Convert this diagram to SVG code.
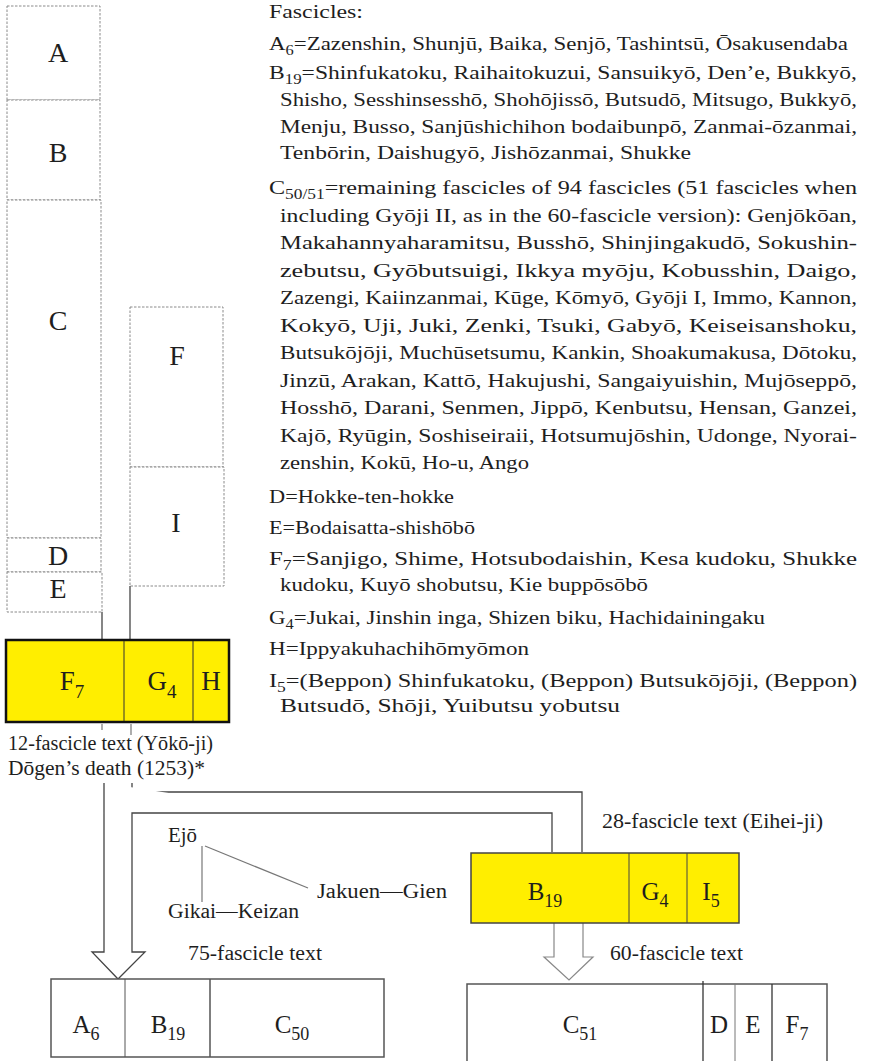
<svg xmlns="http://www.w3.org/2000/svg" width="869" height="1061" viewBox="0 0 869 1061">
<style>
.t{font-family:"Liberation Serif","Times New Roman",serif;fill:#1e1e1e}
.r{font-size:19.5px}
.lbl{font-size:20px}
.big{font-size:28px;text-anchor:middle}
.yl{font-size:27px;text-anchor:middle}
.bl{font-size:25px;text-anchor:middle}
.dot{fill:#fff;stroke:#8a8a8a;stroke-width:1;stroke-dasharray:2.5 1.5}
.ybox{fill:#ffee00}
.box{fill:#fff;stroke:#555;stroke-width:1.5}
.ln{fill:none;stroke:#444;stroke-width:1.3}
.lg{fill:none;stroke:#777;stroke-width:1.2}
</style>
<rect width="869" height="1061" fill="#fff"/>

<g id="col-A"><rect class="dot" x="7" y="6" width="93" height="94"/><text class="t big" x="58" y="62">A</text></g>
<g id="col-B"><rect class="dot" x="7" y="100" width="93" height="100"/><text class="t big" x="58" y="162">B</text></g>
<g id="col-C"><rect class="dot" x="7" y="200" width="94" height="338"/><text class="t big" x="58" y="330">C</text></g>
<g id="col-D"><rect class="dot" x="7" y="538" width="94" height="34"/><text class="t big" x="58" y="565">D</text></g>
<g id="col-E"><rect class="dot" x="7" y="572" width="95" height="40"/><text class="t big" x="58" y="598">E</text></g>
<g id="col-F"><rect class="dot" x="130" y="307" width="93" height="160"/><text class="t big" x="177" y="365">F</text></g>
<g id="col-I"><rect class="dot" x="130" y="467" width="94" height="119"/><text class="t big" x="176" y="532">I</text></g>

<g id="connectors">
<line class="ln" x1="102" y1="612" x2="102" y2="640"/>
<line class="ln" x1="130" y1="586" x2="130" y2="640"/>
<line class="lg" x1="102" y1="724" x2="102" y2="730" stroke="#aaa"/>
<line class="lg" x1="131" y1="724" x2="131" y2="735"/>
<polyline class="ln" points="132,783 132,792 582,792 582,852"/>
<polyline class="ln" points="104,783 104,952 92,952 118,979 145,952 132,952 132,813 552,813 552,852" style="fill:#fff"/>
<polyline class="lg" points="554,923 554,957 544,957 569,980 593,957 583,957 583,923" style="fill:#fff;stroke:#888"/>
<line class="lg" x1="202" y1="846" x2="202" y2="902"/>
<line class="lg" x1="205" y1="846" x2="308" y2="888"/>
</g>

<g id="text12">
<rect class="ybox" x="6" y="640" width="223" height="82" stroke="#111" stroke-width="2.5"/>
<line x1="124" y1="641" x2="124" y2="721" stroke="#333" stroke-width="1"/>
<line x1="193" y1="641" x2="193" y2="721" stroke="#333" stroke-width="1"/>
<text class="t yl" x="72" y="690">F<tspan font-size="19px" dy="8">7</tspan></text>
<text class="t yl" x="162" y="690">G<tspan font-size="19px" dy="8">4</tspan></text>
<text class="t yl" x="211" y="690">H</text>
<text class="t lbl" x="8" y="750" textLength="205" lengthAdjust="spacingAndGlyphs">12-fascicle text (Yōkō-ji)</text>
<text class="t lbl" x="8" y="775" textLength="197" lengthAdjust="spacingAndGlyphs">Dōgen’s death (1253)*</text>
</g>

<g id="text28">
<rect class="ybox" x="471" y="853" width="268" height="70" stroke="#444" stroke-width="1.5"/>
<line x1="629" y1="853" x2="629" y2="923" stroke="#444" stroke-width="1"/>
<line x1="687" y1="853" x2="687" y2="923" stroke="#444" stroke-width="1"/>
<text class="t bl" x="545" y="900">B<tspan font-size="18px" dy="7">19</tspan></text>
<text class="t bl" x="655" y="900">G<tspan font-size="18px" dy="7">4</tspan></text>
<text class="t bl" x="711" y="900">I<tspan font-size="18px" dy="7">5</tspan></text>
<text class="t lbl" x="602" y="828" textLength="221" lengthAdjust="spacingAndGlyphs" fill="#333">28-fascicle text (Eihei-ji)</text>
</g>

<g id="lineage">
<text class="t lbl" x="168" y="842" textLength="29" lengthAdjust="spacingAndGlyphs" fill="#333">Ejō</text>
<text class="t lbl" x="317" y="898" textLength="130" lengthAdjust="spacingAndGlyphs" fill="#333">Jakuen—Gien</text>
<text class="t lbl" x="168" y="918" textLength="131" lengthAdjust="spacingAndGlyphs" fill="#333">Gikai—Keizan</text>
</g>

<g id="text75">
<rect class="box" x="51" y="979" width="333" height="78"/>
<line x1="125" y1="979" x2="125" y2="1057" stroke="#555" stroke-width="1"/>
<line x1="210" y1="979" x2="210" y2="1057" stroke="#555" stroke-width="1.5"/>
<text class="t bl" x="86" y="1033">A<tspan font-size="18px" dy="7">6</tspan></text>
<text class="t bl" x="168" y="1033">B<tspan font-size="18px" dy="7">19</tspan></text>
<text class="t bl" x="292" y="1033">C<tspan font-size="18px" dy="7">50</tspan></text>
<text class="t lbl" x="188" y="960" textLength="134" lengthAdjust="spacingAndGlyphs" fill="#333">75-fascicle text</text>
</g>

<g id="text60">
<rect class="box" x="467" y="984" width="360" height="90"/>
<line x1="703" y1="981" x2="703" y2="1061" stroke="#333" stroke-width="1.3"/>
<line x1="735" y1="984" x2="735" y2="1061" stroke="#777" stroke-width="1"/>
<line x1="772" y1="984" x2="772" y2="1061" stroke="#333" stroke-width="1.3"/>
<text class="t bl" x="580" y="1033">C<tspan font-size="18px" dy="7">51</tspan></text>
<text class="t bl" x="719" y="1033">D</text>
<text class="t bl" x="753" y="1033">E</text>
<text class="t bl" x="797" y="1033">F<tspan font-size="18px" dy="7">7</tspan></text>
<text class="t lbl" x="610" y="960" textLength="133" lengthAdjust="spacingAndGlyphs" fill="#333">60-fascicle text</text>
</g>

<g id="legend">
<text class="t r" x="269" y="18" textLength="94" lengthAdjust="spacingAndGlyphs">Fascicles:</text>
<text class="t r" x="269" y="50" textLength="579" lengthAdjust="spacingAndGlyphs">A<tspan font-size="14px" dy="5">6</tspan><tspan dy="-5">=Zazenshin, Shunjū, Baika, Senjō, Tashintsū, Ōsakusendaba</tspan></text>
<text class="t r" x="269" y="79" textLength="588" lengthAdjust="spacingAndGlyphs">B<tspan font-size="14px" dy="5">19</tspan><tspan dy="-5">=Shinfukatoku, Raihaitokuzui, Sansuikyō, Den’e, Bukkyō,</tspan></text>
<text class="t r" x="280" y="106" textLength="577" lengthAdjust="spacingAndGlyphs">Shisho, Sesshinsesshō, Shohōjissō, Butsudō, Mitsugo, Bukkyō,</text>
<text class="t r" x="280" y="133" textLength="577" lengthAdjust="spacingAndGlyphs">Menju, Busso, Sanjūshichihon bodaibunpō, Zanmai-ōzanmai,</text>
<text class="t r" x="280" y="159" textLength="411" lengthAdjust="spacingAndGlyphs">Tenbōrin, Daishugyō, Jishōzanmai, Shukke</text>
<text class="t r" x="269" y="194" textLength="588" lengthAdjust="spacingAndGlyphs">C<tspan font-size="14px" dy="5">50/51</tspan><tspan dy="-5">=remaining fascicles of 94 fascicles (51 fascicles when</tspan></text>
<text class="t r" x="280" y="221.5" textLength="577" lengthAdjust="spacingAndGlyphs">including Gyōji II, as in the 60-fascicle version): Genjōkōan,</text>
<text class="t r" x="280" y="249" textLength="577" lengthAdjust="spacingAndGlyphs">Makahannyaharamitsu, Busshō, Shinjingakudō, Sokushin-</text>
<text class="t r" x="280" y="276.5" textLength="577" lengthAdjust="spacingAndGlyphs">zebutsu, Gyōbutsuigi, Ikkya myōju, Kobusshin, Daigo,</text>
<text class="t r" x="280" y="304" textLength="577" lengthAdjust="spacingAndGlyphs">Zazengi, Kaiinzanmai, Kūge, Kōmyō, Gyōji I, Immo, Kannon,</text>
<text class="t r" x="280" y="331.5" textLength="577" lengthAdjust="spacingAndGlyphs">Kokyō, Uji, Juki, Zenki, Tsuki, Gabyō, Keiseisanshoku,</text>
<text class="t r" x="280" y="359" textLength="577" lengthAdjust="spacingAndGlyphs">Butsukōjōji, Muchūsetsumu, Kankin, Shoakumakusa, Dōtoku,</text>
<text class="t r" x="280" y="386.5" textLength="577" lengthAdjust="spacingAndGlyphs">Jinzū, Arakan, Kattō, Hakujushi, Sangaiyuishin, Mujōseppō,</text>
<text class="t r" x="280" y="414" textLength="577" lengthAdjust="spacingAndGlyphs">Hosshō, Darani, Senmen, Jippō, Kenbutsu, Hensan, Ganzei,</text>
<text class="t r" x="280" y="441.5" textLength="577" lengthAdjust="spacingAndGlyphs">Kajō, Ryūgin, Soshiseiraii, Hotsumujōshin, Udonge, Nyorai-</text>
<text class="t r" x="280" y="469" textLength="249" lengthAdjust="spacingAndGlyphs">zenshin, Kokū, Ho-u, Ango</text>
<text class="t r" x="269" y="503" textLength="185" lengthAdjust="spacingAndGlyphs">D=Hokke-ten-hokke</text>
<text class="t r" x="269" y="534" textLength="206" lengthAdjust="spacingAndGlyphs">E=Bodaisatta-shishōbō</text>
<text class="t r" x="269" y="565" textLength="588" lengthAdjust="spacingAndGlyphs">F<tspan font-size="14px" dy="5">7</tspan><tspan dy="-5">=Sanjigo, Shime, Hotsubodaishin, Kesa kudoku, Shukke</tspan></text>
<text class="t r" x="280" y="591" textLength="368" lengthAdjust="spacingAndGlyphs">kudoku, Kuyō shobutsu, Kie buppōsōbō</text>
<text class="t r" x="269" y="624" textLength="496" lengthAdjust="spacingAndGlyphs">G<tspan font-size="14px" dy="5">4</tspan><tspan dy="-5">=Jukai, Jinshin inga, Shizen biku, Hachidainingaku</tspan></text>
<text class="t r" x="269" y="655" textLength="260" lengthAdjust="spacingAndGlyphs">H=Ippyakuhachihōmyōmon</text>
<text class="t r" x="269" y="687" textLength="588" lengthAdjust="spacingAndGlyphs">I<tspan font-size="14px" dy="5">5</tspan><tspan dy="-5">=(Beppon) Shinfukatoku, (Beppon) Butsukōjōji, (Beppon)</tspan></text>
<text class="t r" x="280" y="712" textLength="340" lengthAdjust="spacingAndGlyphs">Butsudō, Shōji, Yuibutsu yobutsu</text>
</g>
</svg>
